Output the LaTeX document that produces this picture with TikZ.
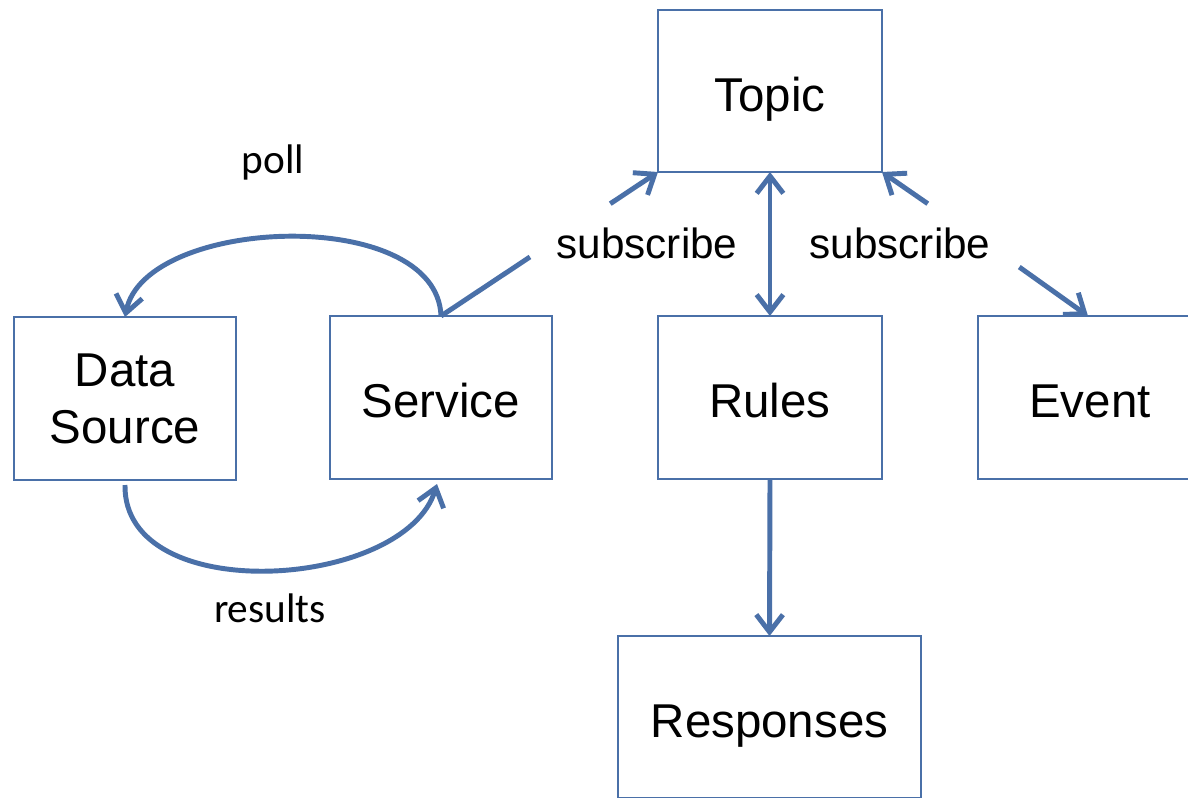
\documentclass[tikz,border=0pt]{standalone}
\usepackage{fontspec}
\setmainfont{Liberation Sans}
\newfontfamily\calibri{Carlito}
\usetikzlibrary{arrows.meta,calc}
\definecolor{linkblue}{RGB}{74,112,168}
\tikzset{
  box/.style={draw=linkblue, line width=1.5pt, rectangle, inner sep=0pt, outer sep=0pt,
    align=center, font=\fontsize{35.6}{42.7}\selectfont},
  oneline/.style={text height=30pt, text depth=0pt},
  link/.style={draw=linkblue, line width=3.7pt,
    arrows={-Straight Barb[length=13pt,width=20pt]}},
  biglabel/.style={font=\fontsize{31.7}{38}\selectfont},
  smalllabel/.style={font=\calibri\fontsize{31}{37}\selectfont}
}
\begin{document}
\begin{tikzpicture}[x=0.75pt,y=-0.75pt]
  \clip (0,0) rectangle (1188,797);
  \fill[white] (0,0) rectangle (1188,797);

  % boxes
  \node[box, oneline, minimum width=168pt, minimum height=121.5pt] (topic) at (770,91) {Topic};
  \node[box, minimum width=166.5pt, minimum height=122.25pt] (source) at (125,398.5) {Data\\Source};
  \node[box, oneline, minimum width=166.5pt, minimum height=122.25pt] (service) at (441,397.5) {Service};
  \node[box, oneline, minimum width=168pt, minimum height=122.25pt] (rules) at (770,397.5) {Rules};
  \node[box, oneline, minimum width=168pt, minimum height=122.25pt] (event) at (1090,397.5) {Event};
  \node[box, oneline, minimum width=227.25pt, minimum height=121.5pt] (responses) at (769.5,717) {Responses};

  % polling loop between data source and service
  \draw[link] (service.north) .. controls (437,205) and (145,216) .. (source.north);
  \draw[link] ([yshift=-3.75pt]source.south) .. controls (123,608) and (405,590) .. ([xshift=-3pt,yshift=-3.75pt]service.south);
  \node[smalllabel] (poll) at (273,162) {poll};
  \node[smalllabel] (results) at (270,608) {results};

  % subscriptions to the topic
  \draw[link, arrows=-] (service.north) -- ($(service.north)!0.41!(topic.south west)$);
  \draw[link] ($(service.north)!0.78!(topic.south west)$) -- (topic.south west);
  \node[biglabel] (sub1) at (647,243) {subscribe};

  \draw[link] ($(topic.south east)!0.22!(event.north)$) -- (topic.south east);
  \draw[link] ($(topic.south east)!0.66!(event.north)$) -- ([xshift=-1.5pt]event.north);
  \node[biglabel] (sub2) at (900,243) {subscribe};

  % topic <-> rules, rules -> responses
  \draw[link, arrows={Straight Barb[length=13pt,width=20pt]-Straight Barb[length=13pt,width=20pt]}] (topic.south) -- (rules.north);
  \draw[link] (rules.south) -- (responses.north);
\end{tikzpicture}
\end{document}
